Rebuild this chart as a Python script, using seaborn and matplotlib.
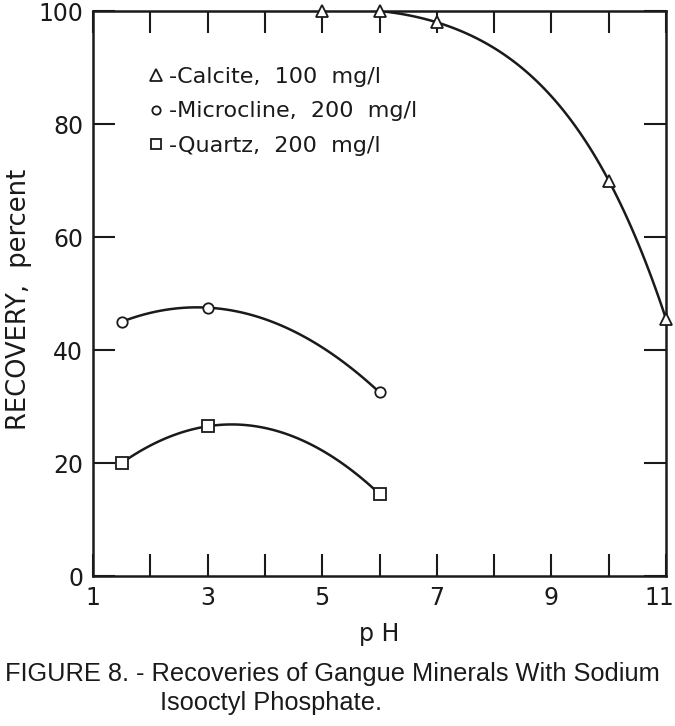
import numpy as np
import pandas as pd
import matplotlib
matplotlib.use("Agg")
import matplotlib.pyplot as plt
import matplotlib.transforms as mtransforms
import seaborn as sns
from matplotlib.lines import Line2D

# ---- data ----
calcite_ph = [5, 6, 7, 10, 11]
calcite_rec = [100, 100, 98, 70, 45.5]
microcline_ph = [1.5, 3, 6]
microcline_rec = [45, 47.5, 32.5]
quartz_ph = [1.5, 3, 6]
quartz_rec = [20, 26.5, 14.5]

series_labels = ["-Calcite,  100  mg/l", "-Microcline,  200  mg/l", "-Quartz,  200  mg/l"]
x_ticks = list(range(1, 12))
x_ticklabels = ["1", "", "3", "", "5", "", "7", "", "9", "", "11"]
y_ticks = [0, 20, 40, 60, 80, 100]
caption_1 = "FIGURE 8. - Recoveries of Gangue Minerals With Sodium"
caption_2 = "Isooctyl Phosphate."

sns.set_theme(style="white")
plt.rcParams["font.family"] = ["DejaVu Sans"]
ink = "#1a1a1a"

fig = plt.figure(figsize=(6.75, 7.26), dpi=100)
ax = fig.add_axes([0.1378, 0.2066, 0.8489, 0.7782])

df_c = pd.DataFrame({"pH": calcite_ph, "rec": calcite_rec})
df_m = pd.DataFrame({"pH": microcline_ph, "rec": microcline_rec})
df_q = pd.DataFrame({"pH": quartz_ph, "rec": quartz_rec})

line_kw = dict(color=ink, lw=1.8)
sns.regplot(data=df_c, x="pH", y="rec", order=4, ci=None, scatter=False,
            truncate=True, line_kws=line_kw, ax=ax)
sns.regplot(data=df_m, x="pH", y="rec", order=2, ci=None, scatter=False,
            truncate=True, line_kws=line_kw, ax=ax)
sns.regplot(data=df_q, x="pH", y="rec", order=2, ci=None, scatter=False,
            truncate=True, line_kws=line_kw, ax=ax)

mk = dict(color=ink, linestyle="none", markerfacecolor="white",
          markeredgecolor=ink, markeredgewidth=1.3)
ax.plot(calcite_ph, calcite_rec, marker="^", markersize=9, zorder=5, clip_on=False, **mk)
ax.plot(microcline_ph, microcline_rec, marker="o", markersize=7.5, zorder=5, clip_on=False, **mk)
ax.plot(quartz_ph, quartz_rec, marker="s", markersize=8, zorder=5, clip_on=False, **mk)

ax.set_xlim(1, 11)
ax.set_ylim(0, 100)
ax.set_xticks(x_ticks)
ax.set_xticklabels(x_ticklabels)
ax.set_yticks(y_ticks)
ax.set_yticklabels([str(v) for v in y_ticks])
ax.tick_params(axis="both", direction="in", length=16, width=1.5,
               color=ink, labelcolor=ink, labelsize=17, pad=7,
               top=True, right=True, bottom=True, left=True)
for s in ax.spines.values():
    s.set_color(ink)
    s.set_linewidth(1.8)

# nudge the last x tick label ("11") so it stays inside the figure
last = ax.get_xticklabels()[-1]
last.set_transform(last.get_transform() +
                   mtransforms.ScaledTranslation(-7 / 100, 0, fig.dpi_scale_trans))

ax.set_xlabel("p H", fontsize=17, color=ink, labelpad=9)
ax.set_ylabel("RECOVERY,  percent", fontsize=18.5, color=ink)
ax.yaxis.set_label_coords(-0.107, 0.49)

handles = [
    Line2D([], [], marker="^", markersize=8, **mk),
    Line2D([], [], marker="o", markersize=6, **mk),
    Line2D([], [], marker="s", markersize=6.5, **mk),
]
leg = ax.legend(handles, series_labels, loc="upper left",
                bbox_to_anchor=(0.06, 0.937), frameon=False,
                handlelength=0.8, handletextpad=0.15, labelspacing=0.66,
                fontsize=16, labelcolor=ink)

cap_fam = ["Liberation Sans", "DejaVu Sans"]
fig.text(0.007, 0.062, caption_1, fontsize=18.3, color=ink, ha="left",
         va="baseline", family=cap_fam)
fig.text(0.237, 0.022, caption_2, fontsize=18.3, color=ink, ha="left",
         va="baseline", family=cap_fam)

fig.savefig("out.png", dpi=100, facecolor="white")
